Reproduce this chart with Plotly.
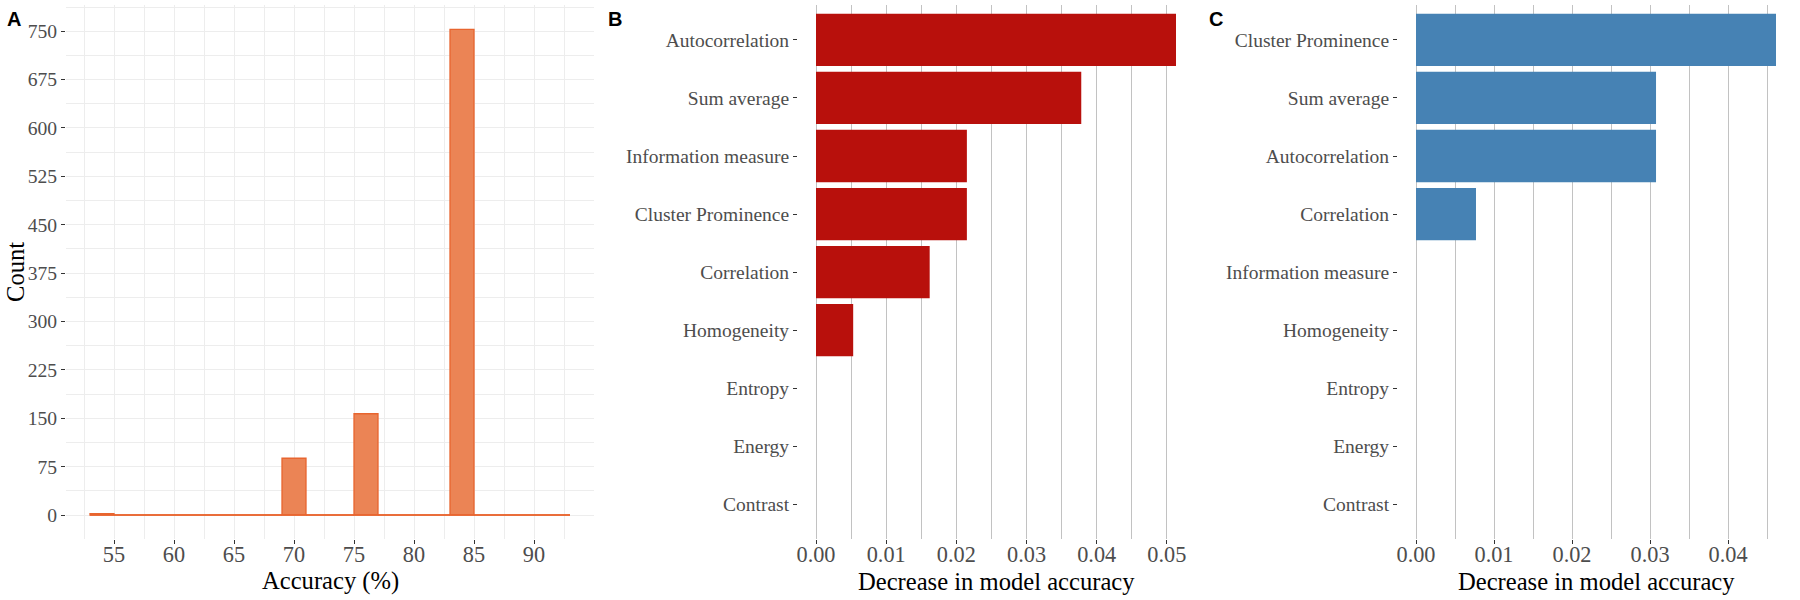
import plotly.graph_objects as go

# ---------------- data ----------------
# Panel A: histogram of accuracy (bin width 2)
acc_bins = [54, 56, 58, 60, 62, 64, 66, 68, 70, 72, 74, 76, 78, 80, 82, 84, 86, 88, 90, 92]
acc_counts = [2, 0, 0, 0, 0, 0, 0, 0, 88, 0, 0, 157, 0, 0, 0, 753, 0, 0, 0, 0]
bin_width = 2
acc_ticks = [55, 60, 65, 70, 75, 80, 85, 90]
count_ticks = [0, 75, 150, 225, 300, 375, 450, 525, 600, 675, 750]

# Panel B
b_features = ["Autocorrelation", "Sum average", "Information measure", "Cluster Prominence",
              "Correlation", "Homogeneity", "Entropy", "Energy", "Contrast"]
b_values = [0.0513, 0.0378, 0.0215, 0.0215, 0.0162, 0.0053, 0.0, 0.0, 0.0]

# Panel C
c_features = ["Cluster Prominence", "Sum average", "Autocorrelation", "Correlation",
              "Information measure", "Homogeneity", "Entropy", "Energy", "Contrast"]
c_values = [0.04615, 0.03077, 0.03077, 0.00769, 0.0, 0.0, 0.0, 0.0, 0.0]

dec_ticks = [0.00, 0.01, 0.02, 0.03, 0.04, 0.05]

# ---------------- style ----------------
W, H = 1800, 600
SERIF = "Liberation Serif"
SANS = "Liberation Sans"
TICK_GRAY = "#4D4D4D"
A_FILL = "#EB8455"
A_LINE = "#E8652F"
B_COL = "#B8100C"
C_COL = "#4682B4"
LIGHT_GRID = "#EDEDED"
BAR_GRID = "#C2C2C2"


def px_x(p):
    return p / W


def px_y(p):
    return 1 - p / H


top_px, bot_px = 5, 539.3
ydom = [px_y(bot_px), px_y(top_px)]

fig = go.Figure()

# ---- Panel A ----
edges_lo = acc_bins[0] - bin_width / 2
edges_hi = acc_bins[-1] + bin_width / 2
fig.add_trace(go.Scatter(
    x=[edges_lo, edges_hi], y=[0, 0], mode="lines",
    line=dict(color=A_LINE, width=1.3), xaxis="x", yaxis="y",
    showlegend=False, hoverinfo="skip"))
fig.add_trace(go.Bar(
    x=acc_bins, y=acc_counts, width=bin_width,
    marker=dict(color=A_FILL, line=dict(color=A_LINE, width=1.3)),
    xaxis="x", yaxis="y", showlegend=False))

# ---- Panel B ----
fig.add_trace(go.Bar(
    x=b_values, y=b_features, orientation="h", width=0.9,
    marker=dict(color=B_COL, line=dict(width=0)),
    xaxis="x2", yaxis="y2", showlegend=False))

# ---- Panel C ----
fig.add_trace(go.Bar(
    x=c_values, y=c_features, orientation="h", width=0.9,
    marker=dict(color=C_COL, line=dict(width=0)),
    xaxis="x3", yaxis="y3", showlegend=False))

amax = max(acc_counts)
bmax = max(b_values)
cmax = max(c_values)

tickfont_num = dict(family=SERIF, size=22.3, color=TICK_GRAY)
tickfont_ynum = dict(family=SERIF, size=19.6, color=TICK_GRAY)
tickfont_cat = dict(family=SERIF, size=19.5, color=TICK_GRAY)

common_x = dict(showline=False, zeroline=False, ticks="outside", ticklen=4,
                tickcolor="#333333", tickwidth=1, tickfont=tickfont_num,
                ticklabelstandoff=-9, automargin=False)
common_y = dict(showline=False, zeroline=False, ticks="outside", ticklen=4,
                tickcolor="#333333", tickwidth=1, automargin=False)

fig.update_layout(
    width=W, height=H,
    margin=dict(l=0, r=0, t=0, b=0),
    paper_bgcolor="white", plot_bgcolor="white",
    font=dict(family=SERIF),
    bargap=0.1,
    xaxis=dict(domain=[px_x(66), px_x(594)], range=[edges_lo - 0.05 * (edges_hi - edges_lo),
                                                    edges_hi + 0.05 * (edges_hi - edges_lo)],
               tickvals=acc_ticks, showgrid=True, gridcolor=LIGHT_GRID, gridwidth=1.1,
               minor=dict(dtick=2.5, tick0=0, showgrid=True, gridcolor=LIGHT_GRID,
                          gridwidth=0.8, ticklen=0),
               anchor="y", **common_x),
    yaxis=dict(domain=ydom, range=[-0.05 * amax, 1.05 * amax], tickvals=count_ticks,
               showgrid=True, gridcolor=LIGHT_GRID, gridwidth=1.1,
               minor=dict(dtick=37.5, tick0=0, showgrid=True, gridcolor=LIGHT_GRID,
                          gridwidth=0.8, ticklen=0),
               tickfont=tickfont_ynum, anchor="x", **common_y),
    xaxis2=dict(domain=[px_x(798), px_x(1194)], range=[-0.05 * bmax, 1.05 * bmax],
                tickvals=dec_ticks, tickformat=".2f", showgrid=True, gridcolor=BAR_GRID,
                gridwidth=1.1,
                minor=dict(dtick=0.005, tick0=0, showgrid=True, gridcolor=BAR_GRID,
                           gridwidth=1.1, ticklen=0),
                anchor="y2", **common_x),
    yaxis2=dict(domain=ydom, type="category", categoryarray=b_features[::-1],
                categoryorder="array", range=[-0.6, 8.6], showgrid=False,
                tickfont=tickfont_cat, anchor="x2", **common_y),
    xaxis3=dict(domain=[px_x(1398), px_x(1794)], range=[-0.05 * cmax, 1.05 * cmax],
                tickvals=dec_ticks, tickformat=".2f", showgrid=True, gridcolor=BAR_GRID,
                gridwidth=1.1,
                minor=dict(dtick=0.005, tick0=0, showgrid=True, gridcolor=BAR_GRID,
                           gridwidth=1.1, ticklen=0),
                anchor="y3", **common_x),
    yaxis3=dict(domain=ydom, type="category", categoryarray=c_features[::-1],
                categoryorder="array", range=[-0.6, 8.6], showgrid=False,
                tickfont=tickfont_cat, anchor="x3", **common_y),
)

title_font = dict(family=SERIF, size=24.6, color="black")
label_font = dict(family=SANS, size=20, color="black")
annots = [
    dict(text="Count", x=px_x(15), y=px_y(272), textangle=-90, font=title_font),
    dict(text="Accuracy (%)", x=px_x(330), y=px_y(581), font=title_font),
    dict(text="Decrease in model accuracy", x=px_x(996), y=px_y(581), font=title_font),
    dict(text="Decrease in model accuracy", x=px_x(1596), y=px_y(581), font=title_font),
    dict(text="<b>A</b>", x=px_x(14), y=px_y(19), font=label_font),
    dict(text="<b>B</b>", x=px_x(615), y=px_y(19), font=label_font),
    dict(text="<b>C</b>", x=px_x(1216), y=px_y(19), font=label_font),
]
for a in annots:
    a.update(xref="paper", yref="paper", showarrow=False, xanchor="center", yanchor="middle")
fig.update_layout(annotations=annots)

fig.write_html(
    "out.html",
    config={"displayModeBar": False},
    post_script="document.body.style.margin='0';document.body.style.overflow='hidden';",
)
